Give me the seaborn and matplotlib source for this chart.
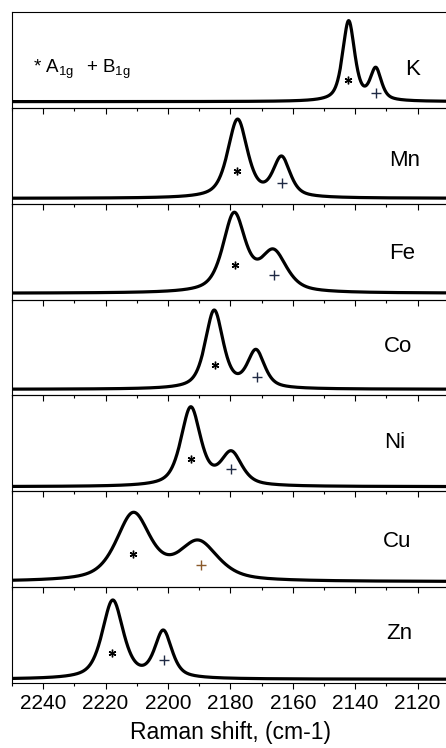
import numpy as np
import pandas as pd
import matplotlib
matplotlib.use("Agg")
import matplotlib.pyplot as plt
import seaborn as sns

# ---------------- data ----------------
metals = ["K", "Mn", "Fe", "Co", "Ni", "Cu", "Zn"]
a1g_pos = [2142.1, 2177.7, 2178.8, 2185.2, 2192.7, 2211.1, 2217.7]
b1g_pos = [2133.4, 2163.6, 2166.2, 2171.8, 2179.7, 2190.3, 2201.5]
a1g_height = [0.910, 0.883, 0.911, 0.891, 0.882, 0.781, 0.866]
b1g_height = [0.424, 0.498, 0.528, 0.481, 0.423, 0.492, 0.553]
a1g_fwhm = [4.6, 7.5, 8.5, 6.8, 7.5, 13.0, 8.0]
b1g_fwhm = [4.2, 6.5, 10.0, 6.5, 8.0, 15.0, 6.5]
baseline = [0.065, 0.056, 0.066, 0.064, 0.048, 0.057, 0.039]

star_x = [2142.4, 2178.0, 2178.6, 2184.8, 2192.7, 2211.1, 2218.0]
star_y = [0.291, 0.341, 0.361, 0.320, 0.334, 0.346, 0.316]
plus_x = [2133.4, 2163.6, 2166.0, 2171.6, 2179.9, 2189.4, 2201.2]
plus_y = [0.152, 0.213, 0.257, 0.195, 0.229, 0.231, 0.242]

label_x = [2121.5, 2124.0, 2125.1, 2126.3, 2127.2, 2126.7, 2125.9]
label_y = [0.395, 0.456, 0.476, 0.508, 0.507, 0.475, 0.518]

major_ticks = [2240, 2220, 2200, 2180, 2160, 2140, 2120]
x_label = "Raman shift, (cm-1)"
x_range = (2250, 2110)

# ---------------- style ----------------
sns.set_style("ticks")
plt.rcParams["font.family"] = ["Liberation Sans", "DejaVu Sans"]
plt.rcParams["mathtext.default"] = "regular"
plt.rcParams["text.color"] = "black"
plt.rcParams["axes.labelcolor"] = "black"
plt.rcParams["xtick.color"] = "black"
plt.rcParams["xtick.labelcolor"] = "black"

W, H = 446, 748
fig = plt.figure(figsize=(W / 100, H / 100), dpi=100)

left_px, top_px, bottom_px = 12, 12, 683
right_px = left_px + (x_range[0] - x_range[1]) * 3.12
panel_h = (bottom_px - top_px) / len(metals)


def profile(x, c, w, eta=0.6):
    hw = w / 2.0
    lor = 1.0 / (1.0 + ((x - c) / hw) ** 2)
    gau = np.exp(-np.log(2) * ((x - c) / hw) ** 2)
    return eta * lor + (1 - eta) * gau


x = np.linspace(x_range[1], x_range[0], 2801)

for i, m in enumerate(metals):
    y0 = H - (top_px + panel_h * (i + 1))
    ax = fig.add_axes([left_px / W, y0 / H, (right_px - left_px) / W, panel_h / H])
    ax.patch.set_visible(False)

    # component amplitudes such that the sum reaches the read peak heights
    cA, cB = a1g_pos[i], b1g_pos[i]
    wA, wB = a1g_fwhm[i], b1g_fwhm[i]
    hA = a1g_height[i] - baseline[i]
    hB = b1g_height[i] - baseline[i]
    M = np.array([[1.0, profile(cA, cB, wB)], [profile(cB, cA, wA), 1.0]])
    aA, aB = np.linalg.solve(M, np.array([hA, hB]))
    y = baseline[i] + aA * profile(x, cA, wA) + aB * profile(x, cB, wB)

    df = pd.DataFrame({"shift": x, "intensity": y})
    sns.lineplot(data=df, x="shift", y="intensity", ax=ax, color="black",
                 linewidth=2.3, sort=False)

    ax.plot([star_x[i]], [star_y[i]], linestyle="none", marker=(6, 2, 0),
            markersize=5.5, markeredgewidth=1.0, color="black")
    pc = "#8a5a2b" if m == "Cu" else "#1f2a44"
    ax.plot([plus_x[i]], [plus_y[i]], linestyle="none", marker="+",
            markersize=7, markeredgewidth=1.0, color=pc)

    ax.text(label_x[i], label_y[i], m, ha="center", va="center", fontsize=16,
            color="black")

    ax.set_xlim(*x_range)
    ax.set_ylim(0, 1)
    ax.set_xticks(major_ticks)
    ax.set_xticks(np.arange(2110, 2251, 10), minor=True)
    ax.set_yticks([])
    ax.set_ylabel("")
    ax.set_xlabel("")
    for s in ax.spines.values():
        s.set_linewidth(0.8)
        s.set_color("black")
    ax.tick_params(axis="x", which="major", direction="out", length=4,
                   width=0.8, top=False, bottom=True, color="black")
    ax.tick_params(axis="x", which="minor", direction="out", length=2,
                   width=0.8, top=False, bottom=True, color="black")
    if i < len(metals) - 1:
        ax.tick_params(axis="x", labelbottom=False)
    else:
        ax.tick_params(axis="x", labelsize=15, pad=4, labelcolor="black")
        ax.set_xlabel(x_label, fontsize=16.5, labelpad=6, color="black")

    if i == 0:
        ax.text(33 / W, 1 - 73 / H, "* A$_{1g}$", transform=fig.transFigure,
                fontsize=13.5, va="baseline", ha="left", color="black")
        ax.text(86 / W, 1 - 73 / H, "+ B$_{1g}$", transform=fig.transFigure,
                fontsize=13.5, va="baseline", ha="left", color="black")

fig.savefig("out.png", dpi=100)
